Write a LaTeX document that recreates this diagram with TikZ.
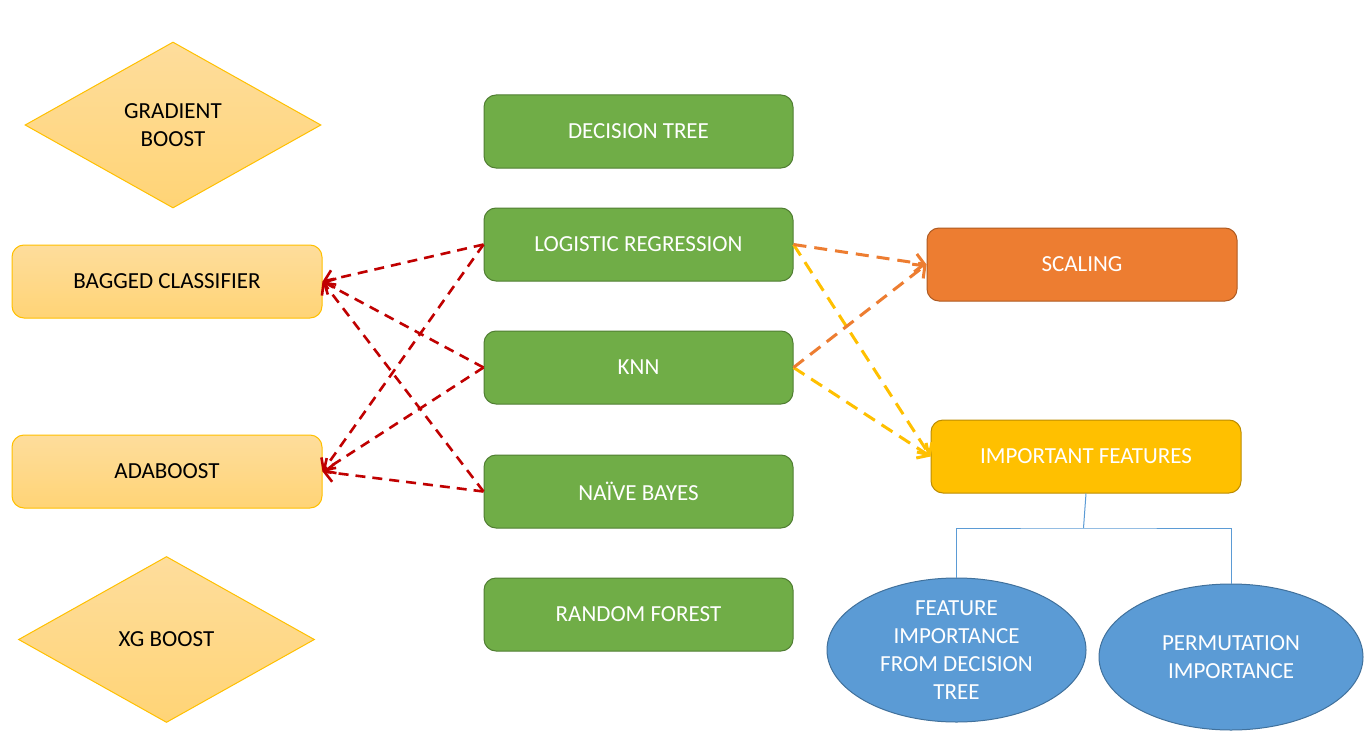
\documentclass[tikz,border=0pt]{standalone}
\usepackage{fontspec}
\setmainfont{Carlito}
\usetikzlibrary{shapes.geometric,arrows.meta}
\definecolor{lgtop}{HTML}{FEDD9C}
\definecolor{lgbot}{HTML}{FFD476}
\definecolor{lgbord}{HTML}{FFC000}
\definecolor{grn}{HTML}{70AD47}
\definecolor{grnb}{HTML}{507E32}
\definecolor{org}{HTML}{ED7D31}
\definecolor{orgb}{HTML}{AE5A21}
\definecolor{ylw}{HTML}{FFC000}
\definecolor{ylwb}{HTML}{BC8C00}
\definecolor{blu}{HTML}{5B9BD5}
\definecolor{blub}{HTML}{41719C}
\definecolor{redl}{HTML}{C00000}
\tikzset{
  base/.style={font=\fontsize{23}{28}\selectfont, align=center, inner sep=0pt},
  lbox/.style={base, rectangle, rounded corners=12pt, minimum width=310pt, minimum height=73pt,
     top color=lgtop, bottom color=lgbot, draw=lgbord, line width=1pt, text=black},
  ldiam/.style={base, diamond, minimum width=296pt, minimum height=166pt, aspect=1.78,
     top color=lgtop, bottom color=lgbot, draw=lgbord, line width=1pt, text=black},
  gbox/.style={base, rectangle, rounded corners=12pt, minimum width=309pt, minimum height=73pt,
     fill=grn, draw=grnb, line width=1pt, text=white},
  obox/.style={base, rectangle, rounded corners=12pt, minimum width=310pt, minimum height=73pt,
     fill=org, draw=orgb, line width=1pt, text=white},
  ybox/.style={base, rectangle, rounded corners=12pt, minimum width=310pt, minimum height=73pt,
     fill=ylw, draw=ylwb, line width=1pt, text=white},
  bell/.style={base, ellipse, fill=blu, draw=blub, line width=1pt, text=white},
  redarr/.style={draw=redl, line width=2.6pt, dash pattern=on 10pt off 7pt,
     -{Straight Barb[length=9pt,width=18pt,line width=2.6pt]}},
  orarr/.style={draw=org, line width=3pt, dash pattern=on 13pt off 8pt,
     -{Straight Barb[length=9pt,width=18pt,line width=3pt]}},
  yearr/.style={draw=ylw, line width=3pt, dash pattern=on 13pt off 8pt,
     -{Straight Barb[length=9pt,width=18pt,line width=3pt]}},
  treeline/.style={draw=blu, line width=1pt},
}
\begin{document}
\begin{tikzpicture}[x=1pt,y=-1pt]
\useasboundingbox[fill=white] (0,0) rectangle (1370,749);
% left column
\node[ldiam] (gb) at (173,125) {GRADIENT\\BOOST};
\node[lbox] (bag) at (167,281.5) {BAGGED CLASSIFIER};
\node[lbox] (ada) at (167,471.5) {ADABOOST};
\node[ldiam] (xg) at (166.5,639.5) {XG BOOST};
% middle column
\node[gbox] (dt) at (638.5,131.5) {DECISION TREE};
\node[gbox] (lr) at (638.5,244.5) {LOGISTIC REGRESSION};
\node[gbox] (knn) at (638.5,367.5) {KNN};
\node[gbox] (nb) at (638.5,491.5) {NAÏVE BAYES};
\node[gbox] (rf) at (638.5,614.5) {RANDOM FOREST};
% right column
\node[obox] (sc) at (1082,264.5) {SCALING};
\node[ybox] (imp) at (1086,456.5) {IMPORTANT FEATURES};
\node[bell, minimum width=259pt, minimum height=144pt] (fi) at (956.5,650) {FEATURE\\IMPORTANCE\\FROM DECISION\\TREE};
\node[bell, minimum width=264pt, minimum height=146pt] (pi) at (1231,657) {PERMUTATION\\IMPORTANCE};
% tree
\coordinate (br) at (1083.5,528);
\draw[treeline] (imp.south) -- (br);
\draw[treeline] (fi.north) |- (br) -| (pi.north);
% red connectors
\draw[redarr] (lr.west) -- (bag.east);
\draw[redarr] (knn.west) -- (bag.east);
\draw[redarr] (nb.west) -- (bag.east);
\draw[redarr] (lr.west) -- (ada.east);
\draw[redarr] (knn.west) -- (ada.east);
\draw[redarr] (nb.west) -- (ada.east);
% orange / yellow connectors
\draw[yearr] (lr.east) -- (imp.west);
\draw[yearr] (knn.east) -- (imp.west);
\draw[orarr] (lr.east) -- (sc.west);
\draw[orarr] (knn.east) -- (sc.west);
\end{tikzpicture}
\end{document}
